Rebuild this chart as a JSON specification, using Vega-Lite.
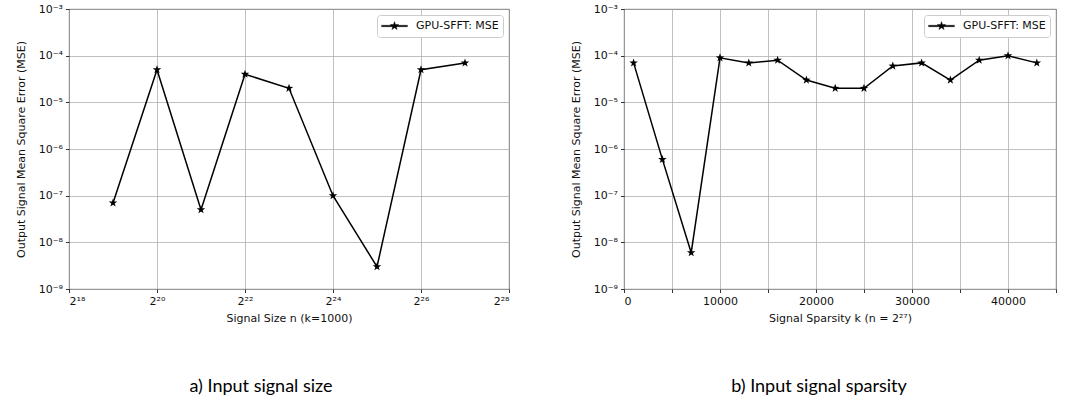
{
  "$schema": "https://vega.github.io/schema/vega-lite/v6.json",
  "background": "white",
  "padding": {"left": 14, "top": 2, "right": 0, "bottom": 0},
  "spacing": 59,
  "config": {
    "font": "DejaVu Sans",
    "view": {"stroke": "black", "strokeWidth": 0.9},
    "axis": {
      "domain": false,
      "tickColor": "black",
      "tickSize": 3.5,
      "tickWidth": 0.8,
      "labelFontSize": 11,
      "labelColor": "#111111",
      "labelPadding": 3,
      "titleFontSize": 11,
      "titleFontWeight": "normal",
      "titleColor": "#111111",
      "gridColor": "#b0b0b0",
      "gridWidth": 0.8,
      "gridOpacity": 1
    },
    "legend": {
      "orient": "top-right",
      "offset": 6,
      "padding": 4,
      "strokeColor": "#cccccc",
      "fillColor": "white",
      "cornerRadius": 3,
      "symbolType": "M-1,-0.06L1,-0.06L1,0.06L-1,0.06Z M0,-0.35L0.082,-0.113L0.333,-0.108L0.133,0.043L0.206,0.283L0,0.14L-0.206,0.283L-0.133,0.043L-0.333,-0.108L-0.082,-0.113Z",
      "symbolSize": 676,
      "clipHeight": 14,
      "labelFontSize": 11,
      "labelColor": "#111111",
      "labelOffset": 8
    },
    "title": {"font": "Lato", "fontSize": 18, "fontWeight": "normal", "color": "black"}
  },
  "resolve": {"scale": {"color": "independent"}, "legend": {"color": "independent"}},
  "hconcat": [
    {
      "width": 440,
      "height": 280,
      "data": {"values": [
        {"n": 524288, "mse": 7e-8, "series": "GPU-SFFT: MSE"},
        {"n": 1048576, "mse": 5e-5, "series": "GPU-SFFT: MSE"},
        {"n": 2097152, "mse": 5e-8, "series": "GPU-SFFT: MSE"},
        {"n": 4194304, "mse": 4e-5, "series": "GPU-SFFT: MSE"},
        {"n": 8388608, "mse": 2e-5, "series": "GPU-SFFT: MSE"},
        {"n": 16777216, "mse": 1e-7, "series": "GPU-SFFT: MSE"},
        {"n": 33554432, "mse": 3e-9, "series": "GPU-SFFT: MSE"},
        {"n": 67108864, "mse": 5e-5, "series": "GPU-SFFT: MSE"},
        {"n": 134217728, "mse": 7e-5, "series": "GPU-SFFT: MSE"}
      ]},
      "title": {"text": "a) Input signal size", "orient": "bottom", "anchor": "middle", "dx": -28, "offset": 54},
      "mark": {"type": "line", "strokeWidth": 1.5, "point": {"shape": "M0,-1L0.235,-0.324L0.951,-0.309L0.38,0.124L0.588,0.809L0,0.4L-0.588,0.809L-0.38,0.124L-0.951,-0.309L-0.235,-0.324Z", "filled": true, "size": 80}},
      "encoding": {
        "x": {
          "field": "n", "type": "quantitative",
          "scale": {"type": "log", "base": 2, "domain": [262144, 268435456], "nice": false},
          "axis": {
            "values": [262144, 1048576, 4194304, 16777216, 67108864, 268435456],
            "labelExpr": "'2' + ['¹⁸','²⁰','²²','²⁴','²⁶','²⁸'][round(log(datum.value)/LN2/2) - 9]",
            "title": "Signal Size n (k=1000)",
            "titlePadding": 6
          }
        },
        "y": {
          "field": "mse", "type": "quantitative",
          "scale": {"type": "log", "domain": [1e-9, 1e-3], "nice": false},
          "axis": {
            "values": [1e-9, 1e-8, 1e-7, 1e-6, 1e-5, 1e-4, 1e-3],
            "labelExpr": "'10⁻' + ['⁰','¹','²','³','⁴','⁵','⁶','⁷','⁸','⁹'][round(-log(datum.value)/LN10)]",
            "title": "Output Signal Mean Square Error (MSE)",
            "titlePadding": 12
          }
        },
        "color": {
          "field": "series", "type": "nominal",
          "scale": {"range": ["black"]},
          "legend": {"title": null, "encode": {"symbols": {"update": {"fill": {"value": "black"}, "stroke": {"value": "black"}, "strokeWidth": {"value": 0.3}}}}}
        }
      }
    },
    {
      "width": 432,
      "height": 280,
      "data": {"values": [
        {"k": 1000, "mse": 7e-5, "series": "GPU-SFFT: MSE"},
        {"k": 4000, "mse": 6e-7, "series": "GPU-SFFT: MSE"},
        {"k": 7000, "mse": 6e-9, "series": "GPU-SFFT: MSE"},
        {"k": 10000, "mse": 9e-5, "series": "GPU-SFFT: MSE"},
        {"k": 13000, "mse": 7e-5, "series": "GPU-SFFT: MSE"},
        {"k": 16000, "mse": 8e-5, "series": "GPU-SFFT: MSE"},
        {"k": 19000, "mse": 3e-5, "series": "GPU-SFFT: MSE"},
        {"k": 22000, "mse": 2e-5, "series": "GPU-SFFT: MSE"},
        {"k": 25000, "mse": 2e-5, "series": "GPU-SFFT: MSE"},
        {"k": 28000, "mse": 6e-5, "series": "GPU-SFFT: MSE"},
        {"k": 31000, "mse": 7e-5, "series": "GPU-SFFT: MSE"},
        {"k": 34000, "mse": 3e-5, "series": "GPU-SFFT: MSE"},
        {"k": 37000, "mse": 8e-5, "series": "GPU-SFFT: MSE"},
        {"k": 40000, "mse": 1e-4, "series": "GPU-SFFT: MSE"},
        {"k": 43000, "mse": 7e-5, "series": "GPU-SFFT: MSE"}
      ]},
      "title": {"text": "b) Input signal sparsity", "orient": "bottom", "anchor": "middle", "dx": -21, "offset": 54},
      "mark": {"type": "line", "strokeWidth": 1.5, "point": {"shape": "M0,-1L0.235,-0.324L0.951,-0.309L0.38,0.124L0.588,0.809L0,0.4L-0.588,0.809L-0.38,0.124L-0.951,-0.309L-0.235,-0.324Z", "filled": true, "size": 80}},
      "encoding": {
        "x": {
          "field": "k", "type": "quantitative",
          "scale": {"domain": [0, 45000], "nice": false},
          "axis": {
            "values": [0, 5000, 10000, 15000, 20000, 25000, 30000, 35000, 40000, 45000],
            "format": "d",
            "title": "Signal Sparsity k (n = 2²⁷)",
            "titlePadding": 6
          }
        },
        "y": {
          "field": "mse", "type": "quantitative",
          "scale": {"type": "log", "domain": [1e-9, 1e-3], "nice": false},
          "axis": {
            "values": [1e-9, 1e-8, 1e-7, 1e-6, 1e-5, 1e-4, 1e-3],
            "labelExpr": "'10⁻' + ['⁰','¹','²','³','⁴','⁵','⁶','⁷','⁸','⁹'][round(-log(datum.value)/LN10)]",
            "title": "Output Signal Mean Square Error (MSE)",
            "titlePadding": 12
          }
        },
        "color": {
          "field": "series", "type": "nominal",
          "scale": {"range": ["black"]},
          "legend": {"title": null, "encode": {"symbols": {"update": {"fill": {"value": "black"}, "stroke": {"value": "black"}, "strokeWidth": {"value": 0.3}}}}}
        }
      }
    }
  ]
}
